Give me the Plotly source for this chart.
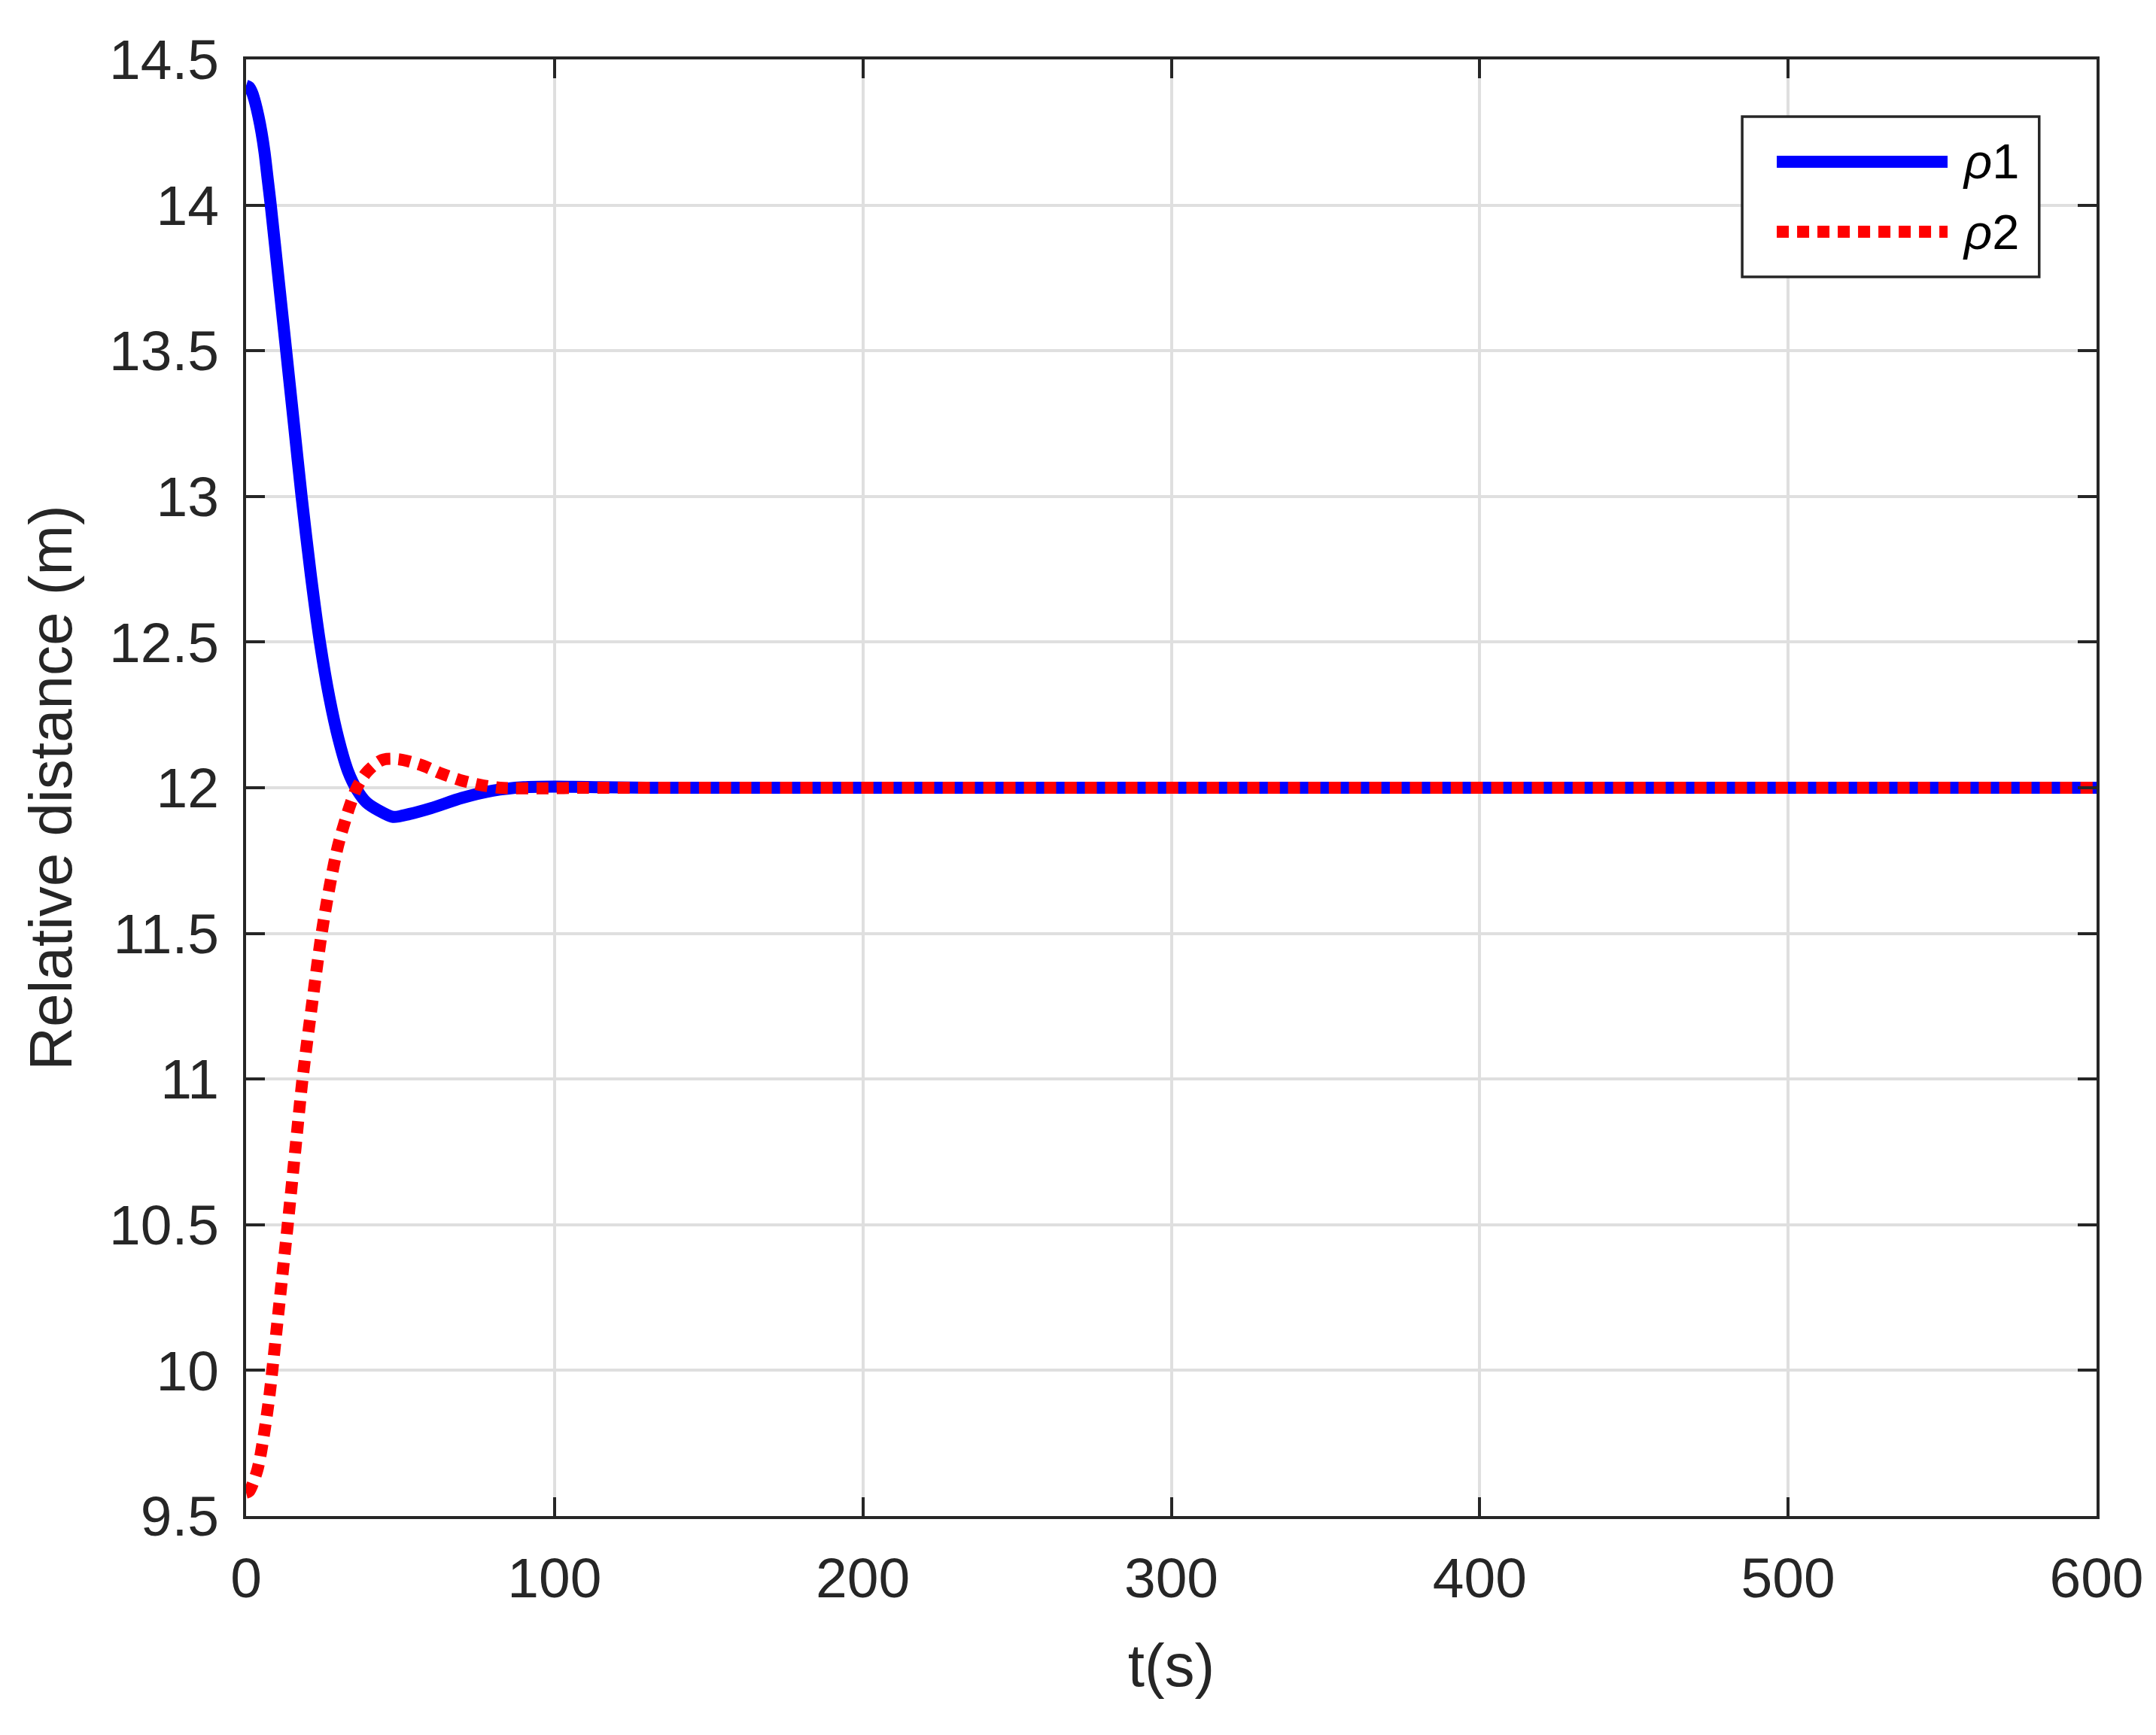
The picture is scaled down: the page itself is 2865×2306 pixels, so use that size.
"""Relative distance of the two followers (rho1, rho2) settling to 12 m."""

import plotly.graph_objects as go

# values
t_rho1 = [0, 1, 2, 3, 4, 5, 6, 7, 8, 10.5, 13, 15.5, 18, 21, 24, 27, 30, 33, 36, 39,
          43, 47.7, 53, 60, 70, 80, 90, 100, 115, 130, 600]
rho1 = [14.41, 14.405, 14.385, 14.35, 14.305, 14.25, 14.18, 14.09, 14.0, 13.75, 13.5,
        13.25, 13.0, 12.73, 12.496, 12.31, 12.166, 12.058, 11.992, 11.95, 11.922, 11.90,
        11.91, 11.93, 11.965, 11.99, 12.002, 12.004, 12.002, 12.0, 12.0]

t_rho2 = [0, 1, 3.7, 5.8, 7.6, 8.5, 10.5, 13.5, 15.9, 18.3, 21.3, 24.5, 26.9, 29.8,
          33.4, 35.9, 39.1, 44, 49.3, 57, 63, 69.2, 75.8, 82.3, 95, 110, 130, 600]
rho2 = [9.58, 9.585, 9.66, 9.78, 9.915, 10.0, 10.2, 10.5, 10.75, 11.0, 11.25, 11.5,
        11.65, 11.80, 11.93, 12.0, 12.053, 12.095, 12.098, 12.077, 12.05, 12.027,
        12.01, 12.0, 11.998, 12.0, 12.0, 12.0]

x_ticks = [0, 100, 200, 300, 400, 500, 600]
y_ticks = [9.5, 10, 10.5, 11, 11.5, 12, 12.5, 13, 13.5, 14, 14.5]
y_tick_labels = ["9.5", "10", "10.5", "11", "11.5", "12", "12.5", "13", "13.5", "14", "14.5"]
legend_labels = ["<i>ρ</i>1", "<i>ρ</i>2"]

FONT = "Liberation Sans, Arial, sans-serif"
INK = "#262626"
GRID = "#dfdfdf"

fig = go.Figure()
fig.add_trace(go.Scatter(
    x=t_rho1, y=rho1, mode="lines", name=legend_labels[0],
    line=dict(color="#0000ff", width=16, shape="spline", smoothing=0.8),
))
fig.add_trace(go.Scatter(
    x=t_rho2, y=rho2, mode="lines", name=legend_labels[1],
    line=dict(color="#ff0000", width=16, dash="16px,11px", shape="spline", smoothing=0.8),
))

axis_common = dict(
    showline=True, linecolor=INK, linewidth=4, mirror="ticks",
    ticks="inside", ticklen=25, tickwidth=4, tickcolor=INK,
    showgrid=True, gridcolor=GRID, gridwidth=4, zeroline=False,
    tickfont=dict(family=FONT, size=75, color=INK),
)

fig.update_xaxes(
    range=[0, 600], tickvals=x_ticks, ticktext=[str(v) for v in x_ticks],
    title=dict(text="t(s)", font=dict(family=FONT, size=80, color=INK), standoff=48),
    ticklabelstandoff=14,
    **axis_common,
)
fig.update_yaxes(
    range=[9.5, 14.5], tickvals=y_ticks, ticktext=y_tick_labels,
    title=dict(text="Relative distance (m)", font=dict(family=FONT, size=80, color=INK),
               standoff=24),
    ticklabelstandoff=17,
    **axis_common,
)

# hand-drawn legend box (MATLAB style, long sample lines)
fig.add_shape(type="rect", xref="paper", yref="paper",
              x0=0.8085, x1=0.969, y0=0.8507, y1=0.9607,
              line=dict(color=INK, width=3.5), fillcolor="white", layer="above")
legend_rows = [(0.9298, "#0000ff", "solid"), (0.8817, "#ff0000", "16px,11px")]
for (row_y, color, dash), label in zip(legend_rows, legend_labels):
    fig.add_shape(type="line", xref="paper", yref="paper",
                  x0=0.8272, x1=0.9195, y0=row_y, y1=row_y,
                  line=dict(color=color, width=16, dash=dash), layer="above")
    fig.add_annotation(xref="paper", yref="paper", x=0.9266, y=row_y,
                       xanchor="left", yanchor="middle", showarrow=False,
                       text=label, font=dict(family=FONT, size=65, color="#000000"))

# the page adds an 8px body margin, so the plot box is nudged up-left by 8px
fig.update_layout(
    width=2865, height=2306,
    margin=dict(l=319, r=87, t=71, b=299),
    paper_bgcolor="white", plot_bgcolor="white",
    showlegend=False,
)

fig.write_html("out.html")
